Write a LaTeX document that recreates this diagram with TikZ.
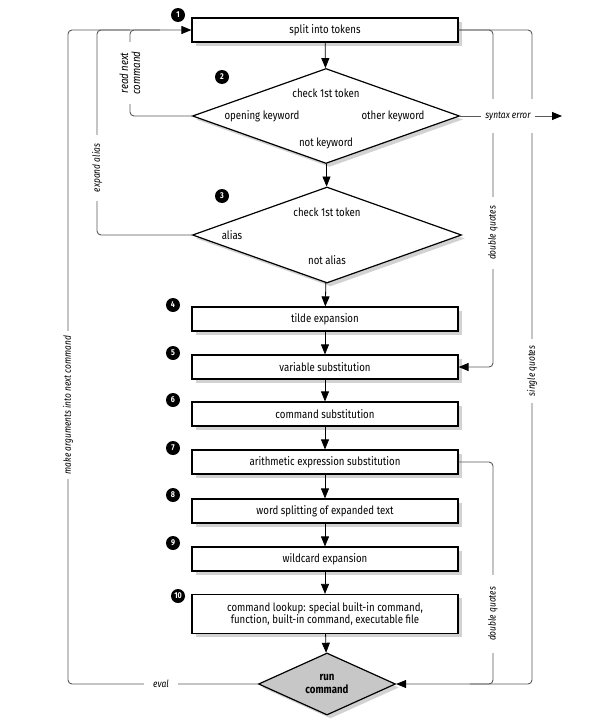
\documentclass[tikz,border=0pt]{standalone}
\usepackage{fontspec}
\setmainfont{Fira Sans}[FakeStretch=0.84]
\usetikzlibrary{shapes.geometric,arrows.meta,shadows}

\tikzset{
    stepbox/.style={rectangle, draw, line width=1.2pt, fill=white, minimum width=266pt, minimum height=24pt, inner sep=1pt, drop shadow={shadow xshift=3.5pt, shadow yshift=-3.5pt, fill=black!35}},
    checkbox/.style={diamond, draw, line width=1.2pt, fill=white, inner sep=0pt, minimum width=267pt, minimum height=95pt, drop shadow={shadow xshift=3.5pt, shadow yshift=-3.5pt, fill=black!35}},
    badge/.style={circle, fill=black, text=white, font=\bfseries\fontsize{8.5}{8.5}\selectfont, inner sep=0pt, minimum size=14pt},
    flow/.style={-{Triangle[length=10pt,width=8pt]}, line width=0.8pt},
    side/.style={draw=black!65, line width=0.9pt, rounded corners=4pt},
    tip/.style={-{Triangle[length=10pt,width=8pt,color=black]}},
    gap/.style={fill=white, inner xsep=7pt, inner ysep=1pt, font=\itshape},
}

\begin{document}
\begin{tikzpicture}[x=1pt, y=-1pt, font=\fontsize{11.5}{13}\selectfont]
    \useasboundingbox (0,0) rectangle (614,720);

    % Steps of the command line
    \node[stepbox] (split) at (325,30) {split into tokens};
    \node[checkbox] (kw) at (326,116) {};
    \node[checkbox, minimum width=269pt, minimum height=96pt] (al) at (327,235) {};
    \node[stepbox] (tilde) at (325,319) {tilde expansion};
    \node[stepbox] (var) at (325,367) {variable substitution};
    \node[stepbox] (cmd) at (325,414) {command substitution};
    \node[stepbox] (arith) at (325,462) {arithmetic expression substitution};
    \node[stepbox] (words) at (325,511) {word splitting of expanded text};
    \node[stepbox] (wild) at (325,559) {wildcard expansion};
    \node[stepbox, minimum height=39pt, align=center, font=\fontsize{11.5}{12.5}\selectfont] (lookup) at (325,614) {command lookup: special built-in command,\\function, built-in command, executable file};
    \node[checkbox, fill=black!22, minimum width=137pt, minimum height=48pt, align=center, font=\bfseries\fontsize{11.5}{12.5}\selectfont] (run) at (327,684) {run\\command};

    % Texts inside the diamonds
    \node (kwtop) at (326,93) {check 1st token};
    \node (kwopen) at (262,116) {opening keyword};
    \node (kwother) at (393,116) {other keyword};
    \node (kwnot) at (326,143) {not keyword};
    \node (altop) at (327,212) {check 1st token};
    \node (alyes) at (232,235) {alias};
    \node (alnot) at (327,260) {not alias};

    % Step numbers
    \node[badge] (n1) at (178,15) {1};
    \node[badge] (n2) at (222,77) {2};
    \node[badge] (n3) at (222,196) {3};
    \node[badge] (n4) at (173,305) {4};
    \node[badge] (n5) at (173,353) {5};
    \node[badge] (n6) at (173,400) {6};
    \node[badge] (n7) at (173,448) {7};
    \node[badge] (n8) at (173,495) {8};
    \node[badge] (n9) at (173,543) {9};
    \node[badge] (n10) at (178,596) {10};

    % Main flow
    \draw[flow] (split) -- (kw);
    \draw[flow] (kw) -- (al);
    \draw[flow] (al) -- (tilde);
    \draw[flow] (tilde) -- (var);
    \draw[flow] (var) -- (cmd);
    \draw[flow] (cmd) -- (arith);
    \draw[flow] (arith) -- (words);
    \draw[flow] (words) -- (wild);
    \draw[flow] (wild) -- (lookup);
    \draw[flow] (lookup) -- (run);

    % Loops back on the left
    \draw[side, tip] (run.west) -- (68,684) -- (68,30) -- (split.west);
    \draw[side] (al.west) -- (97,235) -- (97,30) -- (130,30);
    \draw[side] (kw.west) -- (130,116) -- (130,30) -- (160,30);
    \node[gap, rotate=90, inner xsep=5pt] (makeargs) at (68,405) {make arguments into next command};
    \node[gap, rotate=90, inner xsep=9pt] (expand) at (97,168) {expand alias};
    \node[gap, rotate=90, inner xsep=9pt, align=center, font=\itshape\fontsize{11.5}{12}\selectfont] (readnext) at (130,73) {read next\\command};
    \node[gap, inner xsep=9pt] (eval) at (161,684) {eval};

    % Quoting on the right
    \draw[side, tip] (split.east) -- (532,30) -- (532,684) -- (run.east);
    \draw[side, tip] (split.east) -- (493,30) -- (493,367) -- (var.east);
    \draw[side] (arith.east) -- (493,462) -- (493,684) -- (470,684);
    \node[gap, rotate=90, inner xsep=9pt] (dqup) at (493,233) {double quotes};
    \node[gap, rotate=90] (sq) at (532,371) {single quotes};
    \node[gap, rotate=90, inner xsep=12pt] (dqlow) at (493,614) {double quotes};
    \node[gap, minimum height=34pt, inner xsep=4pt] (syn) at (508,116) {syntax error};
    \draw[side] (kw.east) -- (syn);
    \draw[side, tip] (syn) -- (562,116);
\end{tikzpicture}
\end{document}
